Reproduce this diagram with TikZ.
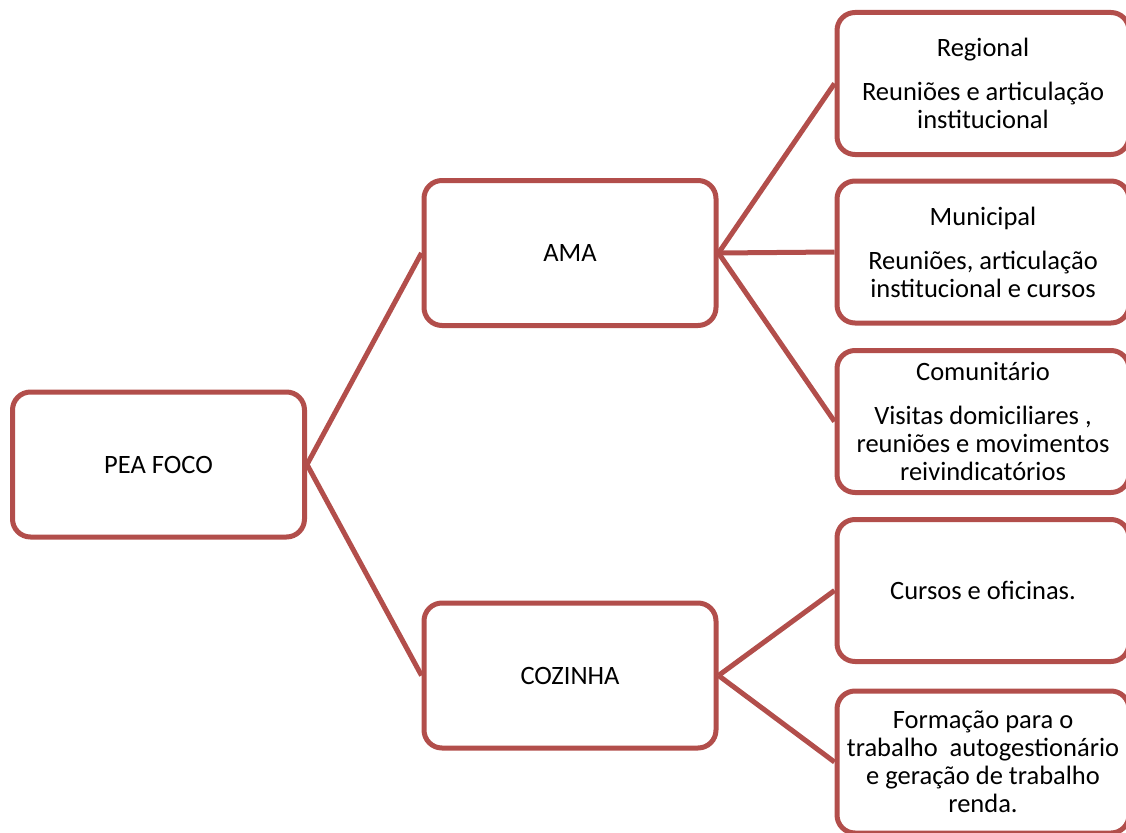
\documentclass[tikz,border=0pt]{standalone}
\usepackage{fontspec}
\setmainfont{Carlito}
\definecolor{boxred}{RGB}{178,78,75}
\begin{document}
\begin{tikzpicture}[x=1pt,y=-1pt,
  box/.style={draw=boxred, line width=5pt, rounded corners=18pt, fill=white,
    align=center, font=\fontsize{26.5}{28}\selectfont, inner sep=0pt,
    minimum width=292pt, minimum height=145pt},
  rbox/.style={box, minimum width=292pt, minimum height=142pt},
  link/.style={draw=boxred, line width=5pt}]
\useasboundingbox (0,0) rectangle (1126,832);
\begin{scope}
\clip (0,0) rectangle (1126,832);
\node[box] (pea) at (158.5,464.5) {PEA FOCO};
\node[box] (ama) at (570,253) {AMA};
\node[box] (coz) at (570,675.5) {COZINHA};
\node[rbox] (reg) at (983,83.5) {Regional\\[16pt]Reuniões e articulação\\institucional};
\node[rbox] (mun) at (983,252) {Municipal\\[16pt]Reuniões, articulação\\institucional e cursos};
\node[rbox] (com) at (983,421.5) {Comunitário\\[16pt]Visitas domiciliares ,\\reuniões e movimentos\\reivindicatórios};
\node[rbox] (cur) at (983,590.5) {Cursos e oficinas.};
\node[rbox] (for) at (983,762) {Formação para o\\trabalho\ \ autogestionário\\e geração de trabalho\\renda.};
\draw[link] (pea.east) -- (ama.west);
\draw[link] (pea.east) -- (coz.west);
\draw[link] (ama.east) -- (reg.west);
\draw[link] (ama.east) -- (mun.west);
\draw[link] (ama.east) -- (com.west);
\draw[link] (coz.east) -- (cur.west);
\draw[link] (coz.east) -- (for.west);
\end{scope}
\end{tikzpicture}
\end{document}
